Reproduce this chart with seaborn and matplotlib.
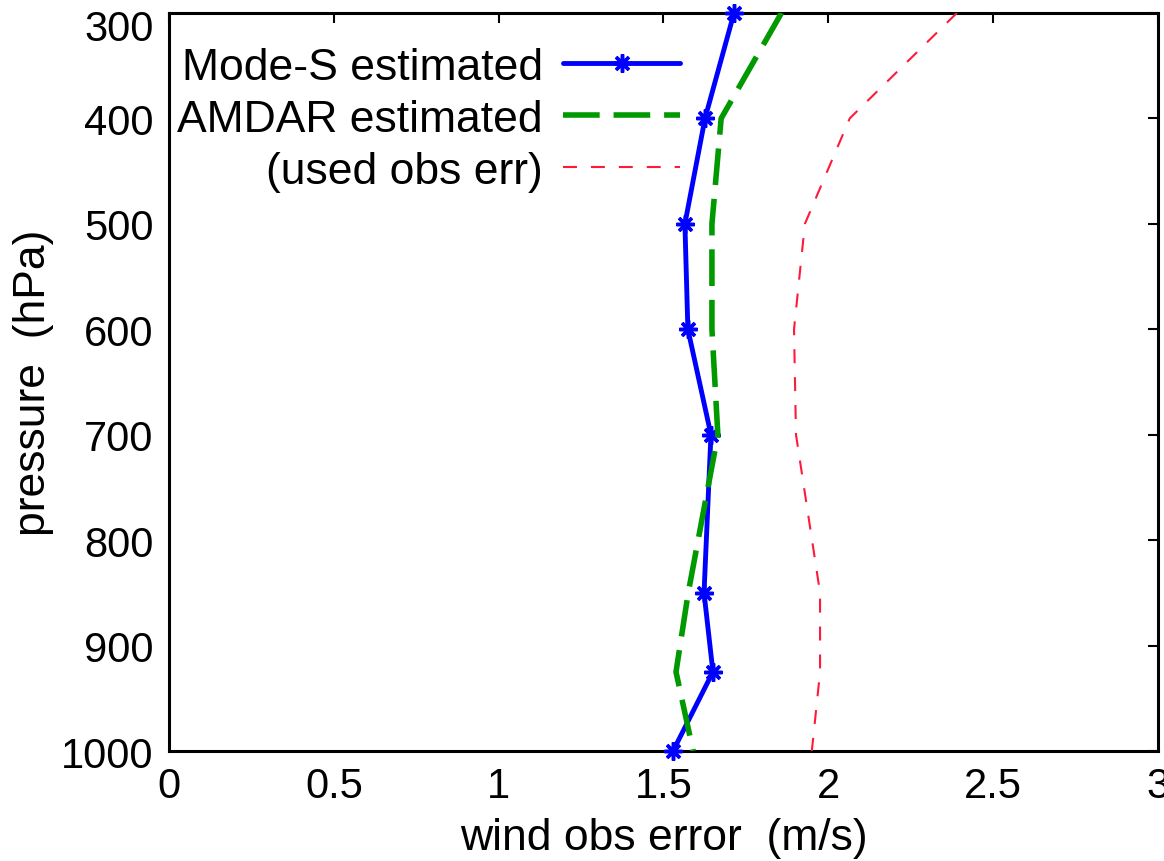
import pandas as pd
import matplotlib
matplotlib.use("Agg")
import matplotlib.pyplot as plt
import matplotlib.transforms as mtransforms
import seaborn as sns

# pressure levels (hPa)
levels = [300, 400, 500, 600, 700, 850, 925, 1000]

# wind obs error estimates (m/s)
modes_err = [1.714, 1.626, 1.565, 1.574, 1.644, 1.623, 1.650, 1.529]
amdar_err = [1.858, 1.675, 1.647, 1.647, 1.665, 1.575, 1.538, 1.590]
used_err = [2.39, 2.065, 1.929, 1.896, 1.902, 1.975, 1.975, 1.950]

x_ticks = [0, 0.5, 1, 1.5, 2, 2.5, 3]
x_ticklabels = ["0", "0.5", "1", "1.5", "2", "2.5", "3"]

df = pd.DataFrame({"pressure": levels, "modes": modes_err,
                   "amdar": amdar_err, "used": used_err})

sns.set_theme(style="white")
plt.rcParams["font.family"] = ["Liberation Sans", "DejaVu Sans"]
plt.rcParams["text.color"] = "black"
plt.rcParams["axes.labelcolor"] = "black"

fig = plt.figure(figsize=(11.64, 8.62), dpi=100)
ax = fig.add_axes([0.1452, 0.1276, 0.8496, 0.8562])

sns.lineplot(data=df, x="modes", y="pressure", orient="y", estimator=None,
             color="#0000ff", lw=3.5, marker=(8, 2, 0), markersize=13,
             markeredgewidth=2.5, markeredgecolor="#0000ff",
             label="Mode-S estimated", ax=ax, clip_on=False, zorder=3)
sns.lineplot(data=df, x="amdar", y="pressure", orient="y", estimator=None,
             color="#009900", lw=4, label="AMDAR estimated", ax=ax, zorder=4)
ax.lines[-1].set_dashes([6.6, 2.5])
sns.lineplot(data=df, x="used", y="pressure", orient="y", estimator=None,
             color="#ff1a3a", lw=1.5, label="(used obs err)", ax=ax, zorder=5)
ax.lines[-1].set_dashes([6.7, 6.7])

ax.set_xlim(0, 3)
ax.set_ylim(1000, 300)
ax.set_xticks(x_ticks)
ax.set_xticklabels(x_ticklabels)
ax.set_yticks(range(300, 1001, 100))

ax.set_xlabel("wind obs error  (m/s)", fontsize=32, labelpad=8)
ax.set_ylabel("pressure  (hPa)", fontsize=32, labelpad=5)
ax.tick_params(direction="in", length=7.5, width=1.5, labelsize=30,
               top=True, right=True, pad=11, colors="black")
for s in ax.spines.values():
    s.set_color("black")
    s.set_linewidth(2.2)

# gnuplot nudged the top label down a bit
top_lbl = ax.get_yticklabels()[0]
top_lbl.set_transform(top_lbl.get_transform() +
                      mtransforms.ScaledTranslation(0, -8 / 72, fig.dpi_scale_trans))

leg = ax.legend(loc="upper right", bbox_to_anchor=(0.5167, 0.9544),
                frameon=False, markerfirst=False, fontsize=32,
                handlelength=2.63, handletextpad=0.45, labelspacing=0.25,
                borderpad=0, borderaxespad=0)
for t in leg.get_texts():
    t.set_color("black")

fig.savefig("out.png", dpi=100)
